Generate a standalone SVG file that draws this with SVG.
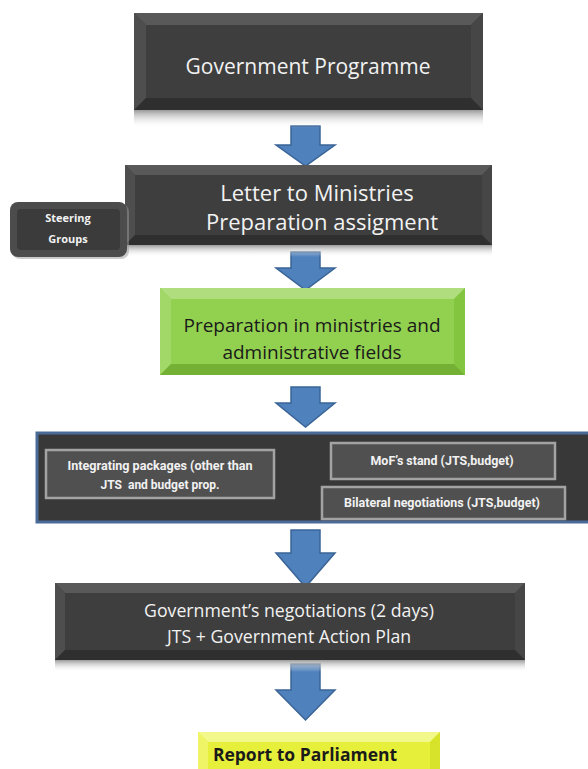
<svg xmlns="http://www.w3.org/2000/svg" width="588" height="769" viewBox="0 0 588 769">
<defs>
<linearGradient id="shadow" x1="0" y1="0" x2="0" y2="1">
<stop offset="0" stop-color="#9a9a9a"/>
<stop offset="1" stop-color="#ffffff" stop-opacity="0"/>
</linearGradient>
<style>
.dk{fill:#3e3e3e}
.bt{fill:#595959}
.bl{fill:#4e4e4e}
.br{fill:#464646}
.bb{fill:#2f2f2f}
.gc{fill:#92d050}
.gt{fill:#b0de7e}
.gl{fill:#a2d867}
.gr{fill:#84c540}
.gb{fill:#73b033}
.yc{fill:#e6f03a}
.yt{fill:#f3f88a}
.yl{fill:#eef466}
.yr{fill:#d7e22a}
.arrow{fill:#4f81bd;stroke:#3a6496;stroke-width:1.5}
.wt{fill:#f2f2f2;font-family:"Open Sans",sans-serif;text-anchor:middle}
.bk{fill:#1a1a1a;font-family:"Open Sans",sans-serif;text-anchor:middle}
.sm{fill:#f2f2f2;font-family:Roboto,sans-serif;font-weight:bold;font-size:12px;text-anchor:middle}
.inner{fill:#505050;stroke:#a3a3a3;stroke-width:2.5}
</style>
</defs>

<g id="connectors">
<path class="arrow" d="M291,126 H320 V145 H335 L305.5,166 L276,145 H291 Z"/>
<path class="arrow" d="M291,252 H320 V268 H335 L305.5,290 L276,268 H291 Z"/>
<path class="arrow" d="M291,387 H320 V403 H335 L305.5,427 L276,403 H291 Z"/>
<path class="arrow" d="M291,530 H320 V553 H335 L305.5,587 L276,553 H291 Z"/>
<path class="arrow" d="M291,664 H320 V690 H335 L305.5,720 L276,690 H291 Z"/>
</g>

<g id="government-programme">
<rect x="134" y="110" width="349" height="18" fill="url(#shadow)"/>
<rect class="dk" x="134" y="13" width="349" height="97"/>
<polygon class="bt" points="134,13 483,13 471,25 146,25"/>
<polygon class="bl" points="134,13 146,25 146,98 134,110"/>
<polygon class="br" points="483,13 483,110 471,98 471,25"/>
<polygon class="bb" points="134,110 146,98 471,98 483,110"/>
<text class="wt" x="308" y="74" font-size="21">Government Programme</text>
</g>

<g id="letter-to-ministries">
<rect x="125" y="245" width="367" height="12" fill="url(#shadow)"/>
<rect class="dk" x="125" y="165" width="367" height="80"/>
<polygon class="bt" points="125,165 492,165 482,175 135,175"/>
<polygon class="bl" points="125,165 135,175 135,235 125,245"/>
<polygon class="br" points="492,165 492,245 482,235 482,175"/>
<polygon class="bb" points="125,245 135,235 482,235 492,245"/>
<text class="wt" x="317" y="201" font-size="22">Letter to Ministries</text>
<text class="wt" x="322" y="230" font-size="22">Preparation assigment</text>
</g>

<g id="steering-groups">
<rect x="12" y="204" width="117" height="55" rx="8" fill="#9a9a9a" opacity="0.5"/>
<rect x="10" y="202" width="117" height="55" rx="8" fill="#4c4c4c"/>
<rect x="17" y="209" width="103" height="41" rx="4" fill="#3b3b3b"/>
<text class="wt" x="68" y="222" font-size="11" font-weight="bold">Steering</text>
<text class="wt" x="68" y="243" font-size="11" font-weight="bold">Groups</text>
</g>

<g id="preparation-in-ministries">
<rect class="gc" x="160" y="288" width="305" height="87"/>
<polygon class="gt" points="160,288 465,288 454,299 171,299"/>
<polygon class="gl" points="160,288 171,299 171,364 160,375"/>
<polygon class="gr" points="465,288 465,375 454,364 454,299"/>
<polygon class="gb" points="160,375 171,364 454,364 465,375"/>
<text class="bk" x="312" y="332" font-size="19">Preparation in ministries and</text>
<text class="bk" x="312" y="359" font-size="19">administrative fields</text>
</g>

<g id="negotiation-panel">
<rect x="37" y="433" width="556" height="89" fill="#383838" stroke="#4a6a98" stroke-width="3"/>
<g id="integrating-packages">
<rect class="inner" x="46" y="450" width="228" height="48"/>
<text class="sm" x="160" y="470" textLength="185" lengthAdjust="spacingAndGlyphs">Integrating packages (other than</text>
<text class="sm" x="160" y="489" xml:space="preserve">JTS  and budget prop.</text>
</g>
<g id="mof-stand">
<rect class="inner" x="331" y="443" width="224" height="36"/>
<text class="sm" x="442" y="465" textLength="143" lengthAdjust="spacingAndGlyphs">MoF’s stand (JTS,budget)</text>
</g>
<g id="bilateral-negotiations">
<rect class="inner" x="322" y="487" width="243" height="32"/>
<text class="sm" x="442" y="507" textLength="196" lengthAdjust="spacingAndGlyphs">Bilateral negotiations (JTS,budget)</text>
</g>
</g>

<g id="government-negotiations">
<rect x="55" y="660" width="470" height="12" fill="url(#shadow)"/>
<rect class="dk" x="55" y="583" width="470" height="77"/>
<polygon class="bt" points="55,583 525,583 515,593 65,593"/>
<polygon class="bl" points="55,583 65,593 65,650 55,660"/>
<polygon class="br" points="525,583 525,660 515,650 515,593"/>
<polygon class="bb" points="55,660 65,650 515,650 525,660"/>
<text class="wt" x="289" y="617" font-size="17.7">Government’s negotiations (2 days)</text>
<text class="wt" x="289" y="643" font-size="17.7">JTS + Government Action Plan</text>
</g>

<g id="report-to-parliament">
<rect class="yc" x="198" y="732" width="242" height="40"/>
<polygon class="yt" points="198,732 440,732 430,742 208,742"/>
<polygon class="yl" points="198,732 208,742 208,769 198,769"/>
<polygon class="yr" points="440,732 440,769 430,769 430,742"/>
<text class="bk" x="305" y="761" font-size="17.5" font-weight="bold">Report to Parliament</text>
</g>
</svg>
